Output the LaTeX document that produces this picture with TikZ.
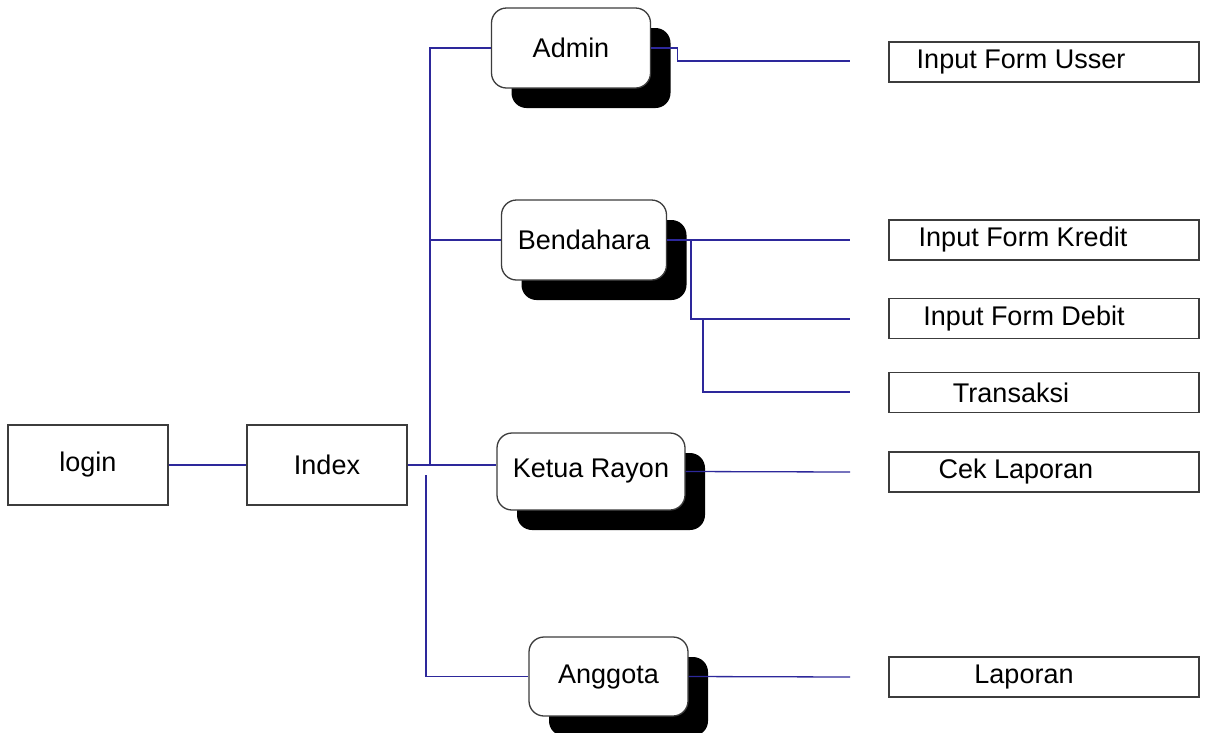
\documentclass[tikz,border=0pt]{standalone}
\usepackage{fontspec}
\setmainfont{Liberation Sans}
\usetikzlibrary{shadows}
\definecolor{conn}{RGB}{45,40,155}
\definecolor{edge}{RGB}{60,60,60}
\begin{document}
\begin{tikzpicture}[x=1pt,y=-1pt,
  every node/.style={font=\fontsize{27}{30}\selectfont, inner sep=0pt},
  plainbox/.style={draw=edge, line width=1.6pt, fill=white, minimum width=160pt, minimum height=80pt},
  rolebox/.style={draw=edge, line width=1.3pt, fill=white, rounded corners=15pt,
    drop shadow={shadow xshift=20pt, shadow yshift=-20pt, fill=black, opacity=1, rounded corners=15pt}},
  leafbox/.style={draw=edge, line width=1.4pt, fill=white, minimum width=310pt, minimum height=40pt},
  link/.style={draw=conn, line width=1.3pt}]
\clip (0,0) rectangle (1207,732);
\fill[white] (0,0) rectangle (1207,732);

% left boxes
\node[plainbox] (login) at (88,465) {login};
\node[plainbox] (index) at (327,465) {Index};

% role boxes
\node[rolebox, minimum width=159pt, minimum height=80pt] (admin) at (571,48) {Admin};
\node[rolebox, minimum width=165pt, minimum height=80pt] (bend) at (584,240) {Bendahara};
\node[rolebox, minimum width=188pt, minimum height=77pt] (ketua) at (591,471.5) {Ketua Rayon};
\node[rolebox, minimum width=159pt, minimum height=79pt] (angg) at (608.5,676.5) {Anggota};

% leaf boxes
\node[leafbox] (usser) at (1044,62) {Input Form Usser\kern46pt};
\node[leafbox] (kredit) at (1044,240) {Input Form Kredit\kern42pt};
\node[leafbox] (debit) at (1044,318.5) {Input Form Debit\kern40pt};
\node[leafbox] (trans) at (1044,392.5) {Transaksi\kern66pt};
\node[leafbox] (cek) at (1044,472) {Cek Laporan\kern56pt};
\node[leafbox] (lap) at (1044,677) {Laporan\kern40pt};

% free ends of connectors
\coordinate (eu) at (850,61);
\coordinate (ek) at (850,240);
\coordinate (ed) at (850,319);
\coordinate (et) at (850,392);
\coordinate (ec) at (850,472);
\coordinate (el) at (850,677);
\coordinate (t1) at (430,465);
\coordinate (t2) at (426,475);
\coordinate (j1) at (691,240);
\coordinate (j2) at (703,319);

% connectors
\draw[link] (login.east) -- (index.east -| index.west);
\draw[link] (index.east) -- (ketua.west |- index.east);
\draw[link] (t1) |- (admin.west);
\draw[link] (t1 |- bend.west) -- (bend.west);
\draw[link] (t2) |- (angg.west);

\draw[link] (admin.east) -- ++(26,0) |- (eu);
\draw[link] (bend.east) -- (ek);
\draw[link] (j1) |- (ed);
\draw[link] (j2) |- (et);
\draw[link] (ketua.east) -- (ec);
\draw[link] (angg.east) -- (el);
\end{tikzpicture}
\end{document}
